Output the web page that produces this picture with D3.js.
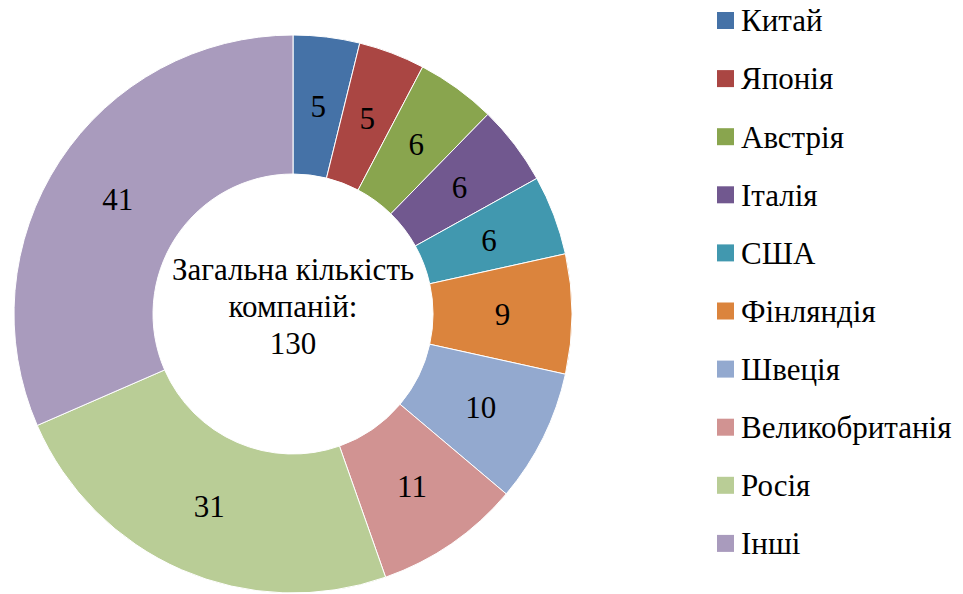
<!DOCTYPE html>
<html>
<head>
<meta charset="utf-8">
<script src="https://cdn.jsdelivr.net/npm/d3@7"></script>
<style>
  body { margin: 0; background: #fff; }
</style>
</head>
<body>
<div id="chart"></div>
<script>
// chart data
var countries = ['Китай', 'Японія', 'Австрія', 'Італія', 'США', 'Фінляндія', 'Швеція', 'Великобританія', 'Росія', 'Інші']
var companies = [5, 5, 6, 6, 6, 9, 10, 11, 31, 41]
var colors = ['#4572A7', '#AA4643', '#89A54E', '#71588F', '#4198AF', '#DB843D', '#93A9CF', '#D19392', '#B9CD96', '#A99BBD']
var centerLines = ['Загальна кількість', 'компаній:', '130']

var svgWidth = 963
var svgHeight = 594
var font = "'Liberation Serif', Tinos, 'DejaVu Serif', 'Noto Serif', serif"
var fontSize = '31px'

var svg = d3.select('#chart')
  .append('svg')
  .attr('width', svgWidth)
  .attr('height', svgHeight)
  .style('font-family', font)

var cx = 293, cy = 314
var outerR = 279, innerR = 140

var data = countries.map(function(c, i) { return {name: c, value: companies[i]} })

var color = d3.scaleOrdinal().domain(countries).range(colors)

var pie = d3.pie().sort(null).value(d => d.value)
var arc = d3.arc().innerRadius(innerR).outerRadius(outerR)
var labelArc = d3.arc().innerRadius((innerR + outerR) / 2).outerRadius((innerR + outerR) / 2)

var donut = svg.append('g')
  .attr('transform', `translate(${cx}, ${cy})`)

donut.selectAll('path')
  .data(pie(data))
  .enter()
  .append('path')
  .attr('d', arc)
  .attr('fill', d => color(d.data.name))
  .attr('stroke', '#fff')
  .attr('stroke-width', 1)

donut.selectAll('.label')
  .data(pie(data))
  .enter()
  .append('text')
  .attr('class', 'label')
  .attr('transform', d => `translate(${labelArc.centroid(d)})`)
  .attr('text-anchor', 'middle')
  .attr('dy', '0.35em')
  .style('font-size', fontSize)
  .text(d => d.data.value)

//center text
donut.selectAll('.center')
  .data(centerLines)
  .enter()
  .append('text')
  .attr('class', 'center')
  .attr('text-anchor', 'middle')
  .attr('y', (d, i) => -34 + i * 37)
  .style('font-size', fontSize)
  .text(d => d)

//legend
var legend = svg.append('g')
  .attr('transform', 'translate(717, 20.5)')

var rows = legend.selectAll('g')
  .data(countries)
  .enter()
  .append('g')
  .attr('transform', (d, i) => `translate(0, ${i * 58.1})`)

rows.append('rect')
  .attr('x', 0)
  .attr('y', -8.5)
  .attr('width', 17)
  .attr('height', 17)
  .attr('fill', d => color(d))

rows.append('text')
  .attr('x', 24)
  .attr('dy', '0.35em')
  .style('font-size', fontSize)
  .text(d => d)
</script>
</body>
</html>
